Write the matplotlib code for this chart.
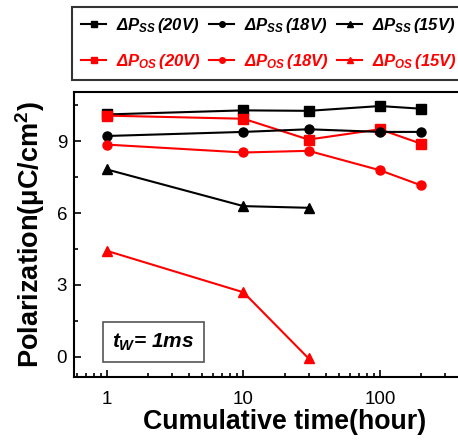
import numpy as np
import matplotlib as mpl
import matplotlib.pyplot as plt
from matplotlib.ticker import FixedLocator, NullFormatter

mpl.use("Agg")

plt.rcParams["font.family"] = ["Liberation Sans", "DejaVu Sans"]
plt.rcParams["mathtext.fontset"] = "custom"
plt.rcParams["mathtext.rm"] = "Liberation Sans:bold:italic"
plt.rcParams["mathtext.it"] = "Liberation Sans:bold:italic"
plt.rcParams["mathtext.bf"] = "Liberation Sans:bold:italic"

# data
time_long = [1, 10, 30, 100, 200]
time_short = [1, 10, 30]

pss_20v = [10.12, 10.29, 10.27, 10.47, 10.36]
pss_18v = [9.22, 9.39, 9.50, 9.39, 9.39]
pss_15v = [7.82, 6.29, 6.22]
pos_20v = [10.07, 9.94, 9.07, 9.50, 8.90]
pos_18v = [8.86, 8.53, 8.60, 7.79, 7.16]
pos_15v = [4.42, 2.69, -0.07]

y_ticks = [0, 3, 6, 9]
x_ticks = [1, 10, 100]
x_tick_labels = ["1", "10", "100"]


def main():
    fig = plt.figure(figsize=(4.58, 4.41), dpi=100)
    # the right part of the frame runs past the edge of the picture
    ax = fig.add_axes([0.1616, 0.145, 0.921, 0.646])

    series = [
        (time_long, pss_20v, "black", "s", r"$\Delta P_{SS}\,(20V)$"),
        (time_long, pos_20v, "red", "s", r"$\Delta P_{OS}\,(20V)$"),
        (time_long, pss_18v, "black", "o", r"$\Delta P_{SS}\,(18V)$"),
        (time_long, pos_18v, "red", "o", r"$\Delta P_{OS}\,(18V)$"),
        (time_short, pss_15v, "black", "^", r"$\Delta P_{SS}\,(15V)$"),
        (time_short, pos_15v, "red", "^", r"$\Delta P_{OS}\,(15V)$"),
    ]
    handles = []
    for x, y, color, marker, label in series:
        h, = ax.plot(x, y, color=color, marker=marker, markersize=6.5,
                     linewidth=1.5, label=label)
        handles.append(h)

    ax.set_xscale("log")
    ax.set_xlim(10 ** -0.242, 10 ** 2.85)
    ax.set_ylim(-0.85, 11.05)
    ax.set_xticks(x_ticks)
    ax.set_xticklabels(x_tick_labels)
    ax.xaxis.set_minor_formatter(NullFormatter())
    ax.set_yticks(y_ticks)
    ax.yaxis.set_minor_locator(FixedLocator([1.5, 4.5, 7.5, 10.5]))

    ax.tick_params(which="both", direction="in", labelsize=13.5, width=1.2)
    ax.tick_params(which="major", length=5)
    ax.tick_params(which="minor", length=3)
    ax.tick_params(axis="x", pad=10)
    ax.tick_params(axis="y", pad=5)
    for side in ax.spines.values():
        side.set_linewidth(1.5)

    ax.set_xlabel("Cumulative time(hour)", fontsize=19.3, fontweight="bold", labelpad=1)
    ax.set_ylabel("Polarization(\u03bcC/cm$^{\\mathregular{2}}$)", fontsize=19.5,
                  fontweight="bold", labelpad=7)

    ax.text(38 / 422, 0.123, r"$t_{W}$= 1ms", transform=ax.transAxes, fontsize=15,
            fontweight="bold", style="italic", ha="left", va="center",
            bbox=dict(boxstyle="square,pad=0.45", facecolor="white",
                      edgecolor="#555555", linewidth=1.2))

    leg = fig.legend(handles=handles, loc="upper left", bbox_to_anchor=(0.157, 0.984),
                     ncol=3, fontsize=12, frameon=True, fancybox=False,
                     handlelength=1.5, handletextpad=0.6, columnspacing=0.5,
                     borderpad=0.55, labelspacing=1.0, borderaxespad=0)
    leg.get_frame().set_edgecolor("black")
    leg.get_frame().set_linewidth(1.5)
    for line in leg.get_lines():
        line.set_markersize(4)
    for text, (_, _, color, _, _) in zip(leg.get_texts(), series):
        text.set_color(color)

    fig.savefig("out.png", dpi=100)
    plt.close(fig)


if __name__ == "__main__":
    main()
